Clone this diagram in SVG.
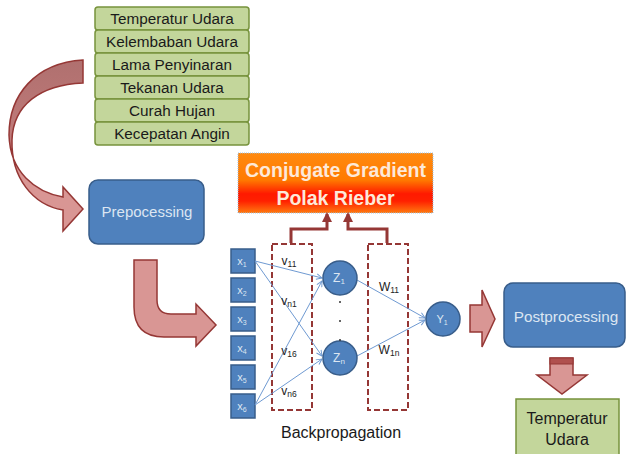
<svg xmlns="http://www.w3.org/2000/svg" width="626" height="454" viewBox="0 0 626 454">
<defs>
<linearGradient id="curveG" x1="0" y1="0" x2="0" y2="1">
<stop offset="0" stop-color="#b0706f"/>
<stop offset="0.45" stop-color="#bf7a79"/>
<stop offset="0.6" stop-color="#d99694"/>
<stop offset="1" stop-color="#d99694"/>
</linearGradient>
<linearGradient id="cgG" x1="0" y1="0" x2="0" y2="1">
<stop offset="0" stop-color="#ff8a10"/>
<stop offset="0.45" stop-color="#ff7a00"/>
<stop offset="0.68" stop-color="#ff1a00"/>
<stop offset="0.8" stop-color="#ff2000"/>
<stop offset="1" stop-color="#ff7a10"/>
</linearGradient>
<marker id="arr" viewBox="0 0 10 10" refX="9" refY="5" markerWidth="7" markerHeight="7" orient="auto" markerUnits="userSpaceOnUse">
<path d="M1,1 L9,5 L1,9" fill="none" stroke="#6f9ad2" stroke-width="1.4"/>
</marker>
<marker id="arrR" viewBox="0 0 10 10" refX="8" refY="5" markerWidth="10" markerHeight="10" orient="auto" markerUnits="userSpaceOnUse">
<path d="M0,0 L10,5 L0,10 Z" fill="#953735"/>
</marker>
</defs>
<style>
.in{fill:#c3d69b;stroke:#77933c;stroke-width:1.5}
.blue{fill:#4f81bd;stroke:#385d8a;stroke-width:1.5}
.blk{fill:#d99694;stroke:#953735;stroke-width:1.5}
.t{font-family:"Liberation Sans",Arial,sans-serif;font-size:15.3px;fill:#1a1a1a;text-anchor:middle}
.w{font-family:"Liberation Sans",Arial,sans-serif;fill:#dce6f2;text-anchor:middle}
.lbl{font-family:"Liberation Sans",Arial,sans-serif;font-size:12px;fill:#222;text-anchor:middle}
.dash{fill:none;stroke:#953735;stroke-width:2;stroke-dasharray:6 3}
.ln{fill:none;stroke:#6f9ad2;stroke-width:1}
.cg{font-family:"Liberation Sans",Arial,sans-serif;font-size:19.5px;font-weight:bold;fill:#fde9d9;text-anchor:middle}
</style>

<g id="inputs">
<rect class="in" x="95" y="7" width="154" height="23" rx="3"/>
<rect class="in" x="95" y="30" width="154" height="23" rx="3"/>
<rect class="in" x="95" y="53" width="154" height="23" rx="3"/>
<rect class="in" x="95" y="76" width="154" height="23" rx="3"/>
<rect class="in" x="95" y="99" width="154" height="23" rx="3"/>
<rect class="in" x="95" y="122" width="154" height="23" rx="3"/>
<text class="t" x="172" y="24">Temperatur Udara</text>
<text class="t" x="172" y="47">Kelembaban Udara</text>
<text class="t" x="172" y="70">Lama Penyinaran</text>
<text class="t" x="172" y="93">Tekanan Udara</text>
<text class="t" x="172" y="116">Curah Hujan</text>
<text class="t" x="172" y="139">Kecepatan Angin</text>
</g>

<g id="curved-arrow">
<path d="M83,60 C35,63 9,95 9,135 C10,172 35,192 63,197 L63,187 L83,209 L63,231 L63,210 C33,205 11,178 12,140 C13,105 40,85 83,83 Z" fill="url(#curveG)" stroke="#953735" stroke-width="1.5"/>
</g>

<g id="prepocessing">
<rect class="blue" x="89" y="180" width="115" height="64" rx="9"/>
<text class="w" x="147" y="217" font-size="15">Prepocessing</text>
</g>

<g id="bent-arrow">
<path class="blk" d="M134,260 L157,260 L157,300 Q157,314 171,314 L196,314 L196,304 L216,325 L196,346 L196,337 L164,337 Q134,337 134,307 Z"/>
</g>

<g id="cg">
<rect x="238" y="153" width="195" height="60" fill="url(#cgG)" stroke="#9dc3e6" stroke-width="1" stroke-dasharray="1 1"/>
<text class="cg" x="335.5" y="177">Conjugate Gradient</text>
<text class="cg" x="335.5" y="205">Polak Rieber</text>
</g>

<g id="x-nodes">
<rect class="blue" x="231" y="249" width="24" height="24"/>
<rect class="blue" x="231" y="278" width="24" height="24"/>
<rect class="blue" x="231" y="307" width="24" height="24"/>
<rect class="blue" x="231" y="336" width="24" height="24"/>
<rect class="blue" x="231" y="365" width="24" height="24"/>
<rect class="blue" x="231" y="394" width="24" height="24"/>
<text class="w" x="242" y="265" font-size="11">x<tspan font-size="7" dy="2">1</tspan></text>
<text class="w" x="242" y="294" font-size="11">x<tspan font-size="7" dy="2">2</tspan></text>
<text class="w" x="242" y="323" font-size="11">x<tspan font-size="7" dy="2">3</tspan></text>
<text class="w" x="242" y="352" font-size="11">x<tspan font-size="7" dy="2">4</tspan></text>
<text class="w" x="242" y="381" font-size="11">x<tspan font-size="7" dy="2">5</tspan></text>
<text class="w" x="242" y="410" font-size="11">x<tspan font-size="7" dy="2">6</tspan></text>
</g>

<g id="weight-boxes">
<rect class="dash" x="272" y="244" width="40" height="166"/>
<rect class="dash" x="368" y="244" width="40" height="166"/>
</g>

<g id="connectors">
<path class="ln" d="M255,261 L322,278" marker-end="url(#arr)"/>
<path class="ln" d="M255,261 L322,356" marker-end="url(#arr)"/>
<path class="ln" d="M255,405 L322,281" marker-end="url(#arr)"/>
<path class="ln" d="M255,405 L322,359" marker-end="url(#arr)"/>
<path class="ln" d="M357,280 L425,318" marker-end="url(#arr)"/>
<path class="ln" d="M357,356 L425,320" marker-end="url(#arr)"/>
<path d="M291,243 L291,229 L327,229 L327,214" fill="none" stroke="#953735" stroke-width="3" marker-end="url(#arrR)"/>
<path d="M387,243 L387,229 L348,229 L348,214" fill="none" stroke="#953735" stroke-width="3" marker-end="url(#arrR)"/>
</g>

<g id="weight-labels">
<text class="lbl" x="289" y="265">v<tspan font-size="8.5" dy="2">11</tspan></text>
<text class="lbl" x="289" y="305">v<tspan font-size="8.5" dy="2">n1</tspan></text>
<text class="lbl" x="289" y="355">v<tspan font-size="8.5" dy="2">16</tspan></text>
<text class="lbl" x="289" y="395">v<tspan font-size="8.5" dy="2">n6</tspan></text>
<text class="lbl" x="389" y="291">W<tspan font-size="8.5" dy="2">11</tspan></text>
<text class="lbl" x="389" y="354">W<tspan font-size="8.5" dy="2">1n</tspan></text>
</g>

<g id="z-nodes">
<circle class="blue" cx="340" cy="278" r="17"/>
<circle class="blue" cx="340" cy="358" r="17"/>
<text class="w" x="339" y="282" font-size="12">Z<tspan font-size="8" dy="2">1</tspan></text>
<text class="w" x="339" y="362" font-size="12">Z<tspan font-size="8" dy="2">n</tspan></text>
<circle cx="340" cy="302" r="1" fill="#333"/>
<circle cx="340" cy="321" r="1" fill="#333"/>
<circle cx="340" cy="340" r="1" fill="#333"/>
</g>

<g id="y-node">
<circle class="blue" cx="443" cy="319" r="17"/>
<text class="w" x="442" y="323" font-size="11">Y<tspan font-size="7" dy="2">1</tspan></text>
</g>

<text class="t" x="341" y="438" style="font-size:16px">Backpropagation</text>

<g id="right-arrow">
<path class="blk" d="M470,305 L482,305 L482,290 L495,319 L482,347 L482,332 L470,332 Z"/>
</g>

<g id="postprocessing">
<rect class="blue" x="504" y="283" width="121" height="64" rx="9"/>
<text class="w" x="566" y="322" font-size="15.3">Postprocessing</text>
</g>

<g id="down-arrow">
<path class="blk" d="M550,358 L573,358 L573,375 L587,375 L562,394 L537,375 L550,375 Z"/>
<rect x="550" y="358" width="23" height="6" fill="#b0504e" stroke="#953735" stroke-width="1"/>
</g>

<g id="output">
<rect class="in" x="516" y="399" width="103" height="60"/>
<text class="t" x="567" y="424" style="font-size:16px">Temperatur</text>
<text class="t" x="567" y="445" style="font-size:16px">Udara</text>
</g>
</svg>
